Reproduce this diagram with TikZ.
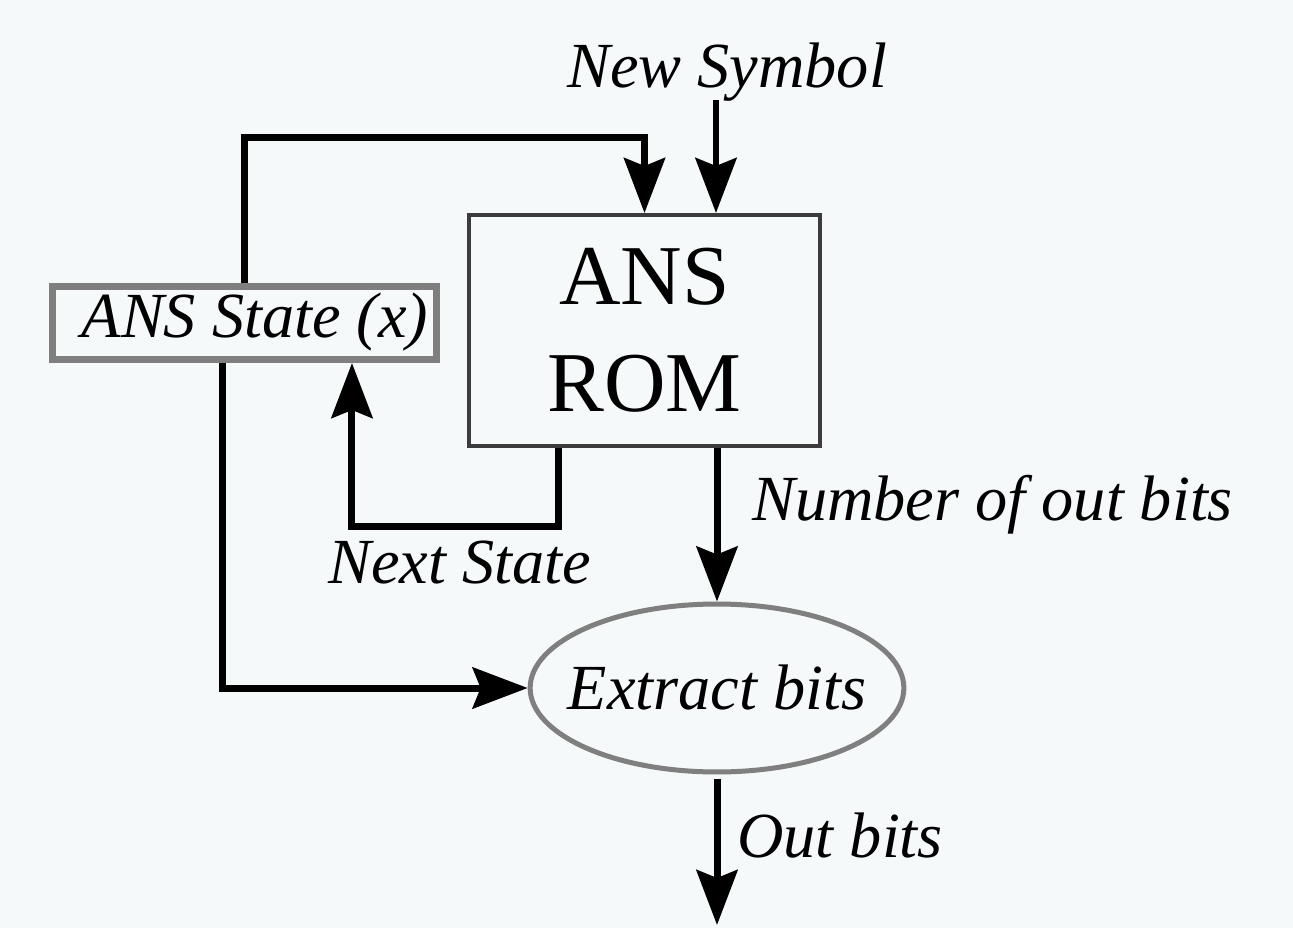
\documentclass[tikz,border=0pt]{standalone}
\usepackage{fontspec}
\setmainfont{Liberation Serif}
\usetikzlibrary{arrows.meta,shapes.geometric}
\definecolor{bgc}{HTML}{F5F9FA}
\definecolor{boxgray}{HTML}{7F7F7F}
\definecolor{romgray}{HTML}{3C3C3C}
\tikzset{
  arr/.style={line width=0.14cm, black,
    -{Stealth[length=1.1cm,width=0.82cm,inset=0.16cm]}},
  lbl/.style={font=\fontsize{36.6}{44}\selectfont\itshape, inner sep=0pt},
  statebox/.style={draw=boxgray, line width=0.14cm, fill=bgc, rectangle,
    minimum width=7.68cm, minimum height=1.46cm, inner sep=0pt},
  rombox/.style={draw=romgray, line width=0.08cm, fill=bgc, rectangle,
    minimum width=7.02cm, minimum height=4.62cm, inner sep=0pt, align=center,
    font=\fontsize{48.5}{61}\selectfont},
  extell/.style={draw=boxgray, line width=0.1cm, fill=bgc, ellipse,
    minimum width=7.46cm, minimum height=3.36cm, inner xsep=-0.34cm, inner ysep=0pt,
    font=\fontsize{36.6}{44}\selectfont\itshape}
}
\begin{document}
\begin{tikzpicture}[x=0.02cm,y=-0.02cm]
\fill[bgc] (0,0) rectangle (1293,928);
\useasboundingbox (0,0) rectangle (1293,928);

\node[statebox] (state) at (244.5,323) {};
\node[lbl, anchor=base] (statetext) at (255,338) {ANS State (x)};
\node[rombox] (rom) at (644.5,330.5) {ANS\\ROM};
\node[extell] (ext) at (717,688) {Extract bits};

\node[lbl, anchor=base] (newsym) at (727,88) {New Symbol};
\node[lbl, anchor=base west] (numbits) at (752,520) {Number of out bits};
\node[lbl, anchor=base west] (nextstate) at (328,583) {Next State};
\node[lbl, anchor=base west] (outbits) at (737,857) {Out bits};
\coordinate (outend) at (717,925);

% state -> ROM (feedback over the top)
\draw[arr] (state.north) |- ([yshift=1.52cm]rom.north) -- (rom.north);
% new symbol -> ROM
\draw[arr] ([xshift=1.43cm,yshift=2.26cm]rom.north) -- ([xshift=1.43cm]rom.north);
% next state: ROM -> state
\draw[arr] ([xshift=-1.73cm]rom.south) -- ++(0,-1.58cm) -| ([xshift=2.15cm]state.south);
% number of out bits: ROM -> extract
\draw[arr] (ext.north |- rom.south) -- (ext.north);
% state -> extract
\draw[arr] ([xshift=-0.45cm]state.south) |- (ext.west);
% out bits
\draw[arr] ([yshift=-0.1cm]ext.south) -- (outend);
\end{tikzpicture}
\end{document}
